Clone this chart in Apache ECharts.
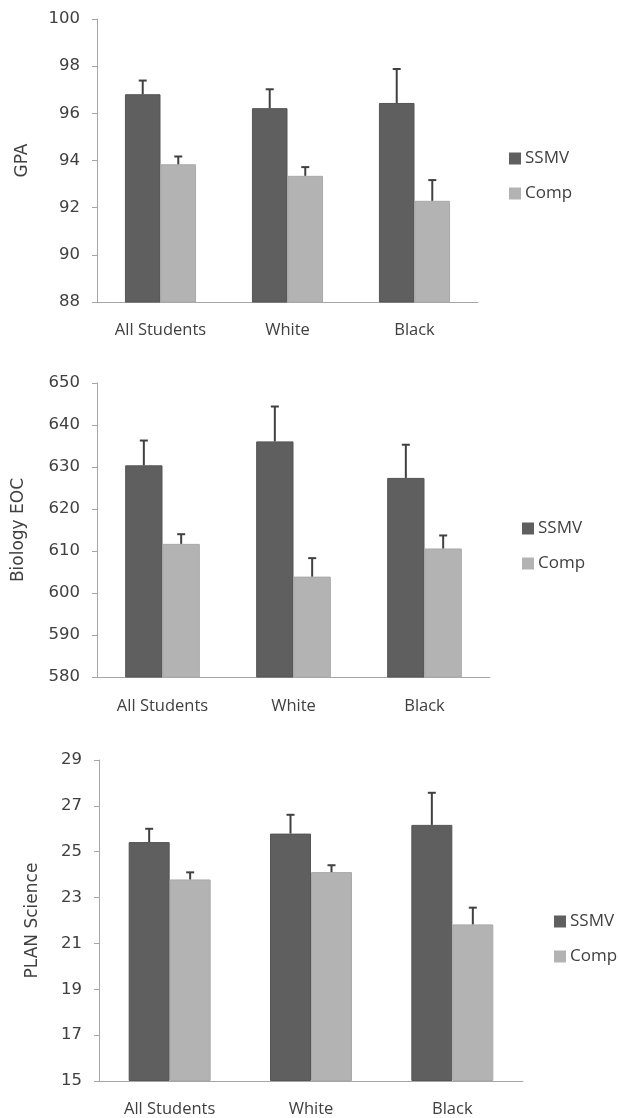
<!DOCTYPE html>
<html>
<head>
<meta charset="utf-8">
<script src="https://cdn.jsdelivr.net/npm/echarts@6/dist/echarts.min.js"></script>
<style>
  html, body { margin: 0; padding: 0; background: #fff; }
  #chart { width: 618px; height: 1118px; }
</style>
</head>
<body>
<div id="chart"></div>
<script>
var groups = ['All Students', 'White', 'Black'];

var gpaSsmv = [96.81, 96.22, 96.44];
var gpaSsmvErr = [0.58, 0.80, 1.44];
var gpaComp = [93.84, 93.35, 92.29];
var gpaCompErr = [0.33, 0.37, 0.88];

var bioSsmv = [630.4, 636.1, 627.4];
var bioSsmvErr = [5.9, 8.3, 7.9];
var bioComp = [611.7, 603.9, 610.6];
var bioCompErr = [2.3, 4.4, 3.1];

var planSsmv = [25.42, 25.79, 26.17];
var planSsmvErr = [0.58, 0.82, 1.40];
var planComp = [23.79, 24.11, 21.83];
var planCompErr = [0.31, 0.30, 0.73];

// PLAN axis runs 15..29 by 2, so it is drawn shifted by its base
var planBase = 15;

var darkGrey = '#5f5f5f';
var lightGrey = '#b3b3b3';
var textCol = '#404040';
var axisCol = '#a6a6a6';

var chartDom = document.getElementById('chart');
var myChart = echarts.init(chartDom);

function shift(arr, base) {
  return arr.map(function (v) { return +(v - base).toFixed(3); });
}

function errSeries(idx, vals, errs, side, gapFrac) {
  return {
    type: 'custom',
    xAxisIndex: idx,
    yAxisIndex: idx,
    silent: true,
    z: 5,
    data: vals.map(function (v, i) { return [i, v + errs[i], v]; }),
    renderItem: function (params, api) {
      var top = api.coord([api.value(0), api.value(1)]);
      var base = api.coord([api.value(0), api.value(2)]);
      var cw = api.size([1, 0])[0];
      var bw = cw * (1 - gapFrac) / 2;
      var x = base[0] + side * bw / 2;
      var st = { stroke: '#404040', lineWidth: 2 };
      return {
        type: 'group',
        children: [
          { type: 'line', shape: { x1: x, y1: base[1], x2: x, y2: top[1] }, style: st },
          { type: 'line', shape: { x1: x - 4, y1: top[1], x2: x + 4, y2: top[1] }, style: st }
        ]
      };
    }
  };
}

function barSeries(idx, name, vals, color, border, gap) {
  return {
    name: name,
    type: 'bar',
    xAxisIndex: idx,
    yAxisIndex: idx,
    data: vals,
    barGap: 0,
    barCategoryGap: gap,
    itemStyle: { color: color, borderColor: border, borderWidth: 1 }
  };
}

function xAxisOf(idx, margin) {
  return {
    type: 'category',
    gridIndex: idx,
    data: groups,
    axisLine: { lineStyle: { color: axisCol, width: 1 } },
    axisTick: { length: 5, lineStyle: { color: axisCol } },
    axisLabel: { color: textCol, fontFamily: 'Open Sans', fontSize: 16.5, margin: margin }
  };
}

function yAxisOf(idx, name, min, max, interval, nameGap, fmt) {
  return {
    type: 'value',
    gridIndex: idx,
    min: min,
    max: max,
    interval: interval,
    name: name,
    nameLocation: 'middle',
    nameGap: nameGap,
    nameTextStyle: { color: textCol, fontFamily: 'DejaVu Sans', fontSize: 17 },
    splitLine: { show: false },
    axisLine: { show: true, lineStyle: { color: axisCol, width: 1 } },
    axisTick: { show: true, length: 5, lineStyle: { color: axisCol } },
    axisLabel: { color: textCol, fontFamily: 'DejaVu Sans', fontSize: 16.5, margin: 17, formatter: fmt }
  };
}

function legendOf(left, top) {
  return {
    orient: 'vertical',
    left: left,
    top: top,
    padding: 0,
    icon: 'rect',
    itemWidth: 12,
    itemHeight: 12,
    itemGap: 18,
    itemStyle: { borderWidth: 0 },
    textStyle: { color: textCol, fontFamily: 'Open Sans', fontSize: 17, padding: [0, 0, 0, -1] },
    data: ['SSMV', 'Comp'],
    selectedMode: false
  };
}

var option = {
  animation: false,
  grid: [
    { left: 97, right: 140, top: 19, height: 283 },
    { left: 97, right: 128, top: 383, height: 294 },
    { left: 99, right: 95, top: 760, height: 326 }
  ],
  legend: [legendOf(509, 150), legendOf(522, 520), legendOf(554, 913)],
  xAxis: [xAxisOf(0, 20), xAxisOf(1, 21), xAxisOf(2, 20)],
  yAxis: [
    yAxisOf(0, 'GPA', 88, 100, 2, 66),
    yAxisOf(1, 'Biology EOC', 580, 650, 10, 70),
    yAxisOf(2, 'PLAN Science', 0, 29 - planBase, 2, 58, function (v) { return v + planBase; })
  ],
  series: [
    barSeries(0, 'SSMV', gpaSsmv, darkGrey, '#555555', '44%'),
    barSeries(0, 'Comp', gpaComp, lightGrey, '#a9a9a9', '44%'),
    errSeries(0, gpaSsmv, gpaSsmvErr, -1, 0.44),
    errSeries(0, gpaComp, gpaCompErr, 1, 0.44),

    barSeries(1, 'SSMV', bioSsmv, darkGrey, '#555555', '43%'),
    barSeries(1, 'Comp', bioComp, lightGrey, '#a9a9a9', '43%'),
    errSeries(1, bioSsmv, bioSsmvErr, -1, 0.43),
    errSeries(1, bioComp, bioCompErr, 1, 0.43),

    barSeries(2, 'SSMV', shift(planSsmv, planBase), darkGrey, '#555555', '42%'),
    barSeries(2, 'Comp', shift(planComp, planBase), lightGrey, '#a9a9a9', '42%'),
    errSeries(2, shift(planSsmv, planBase), planSsmvErr, -1, 0.42),
    errSeries(2, shift(planComp, planBase), planCompErr, 1, 0.42)
  ]
};

option && myChart.setOption(option);
</script>
</body>
</html>
